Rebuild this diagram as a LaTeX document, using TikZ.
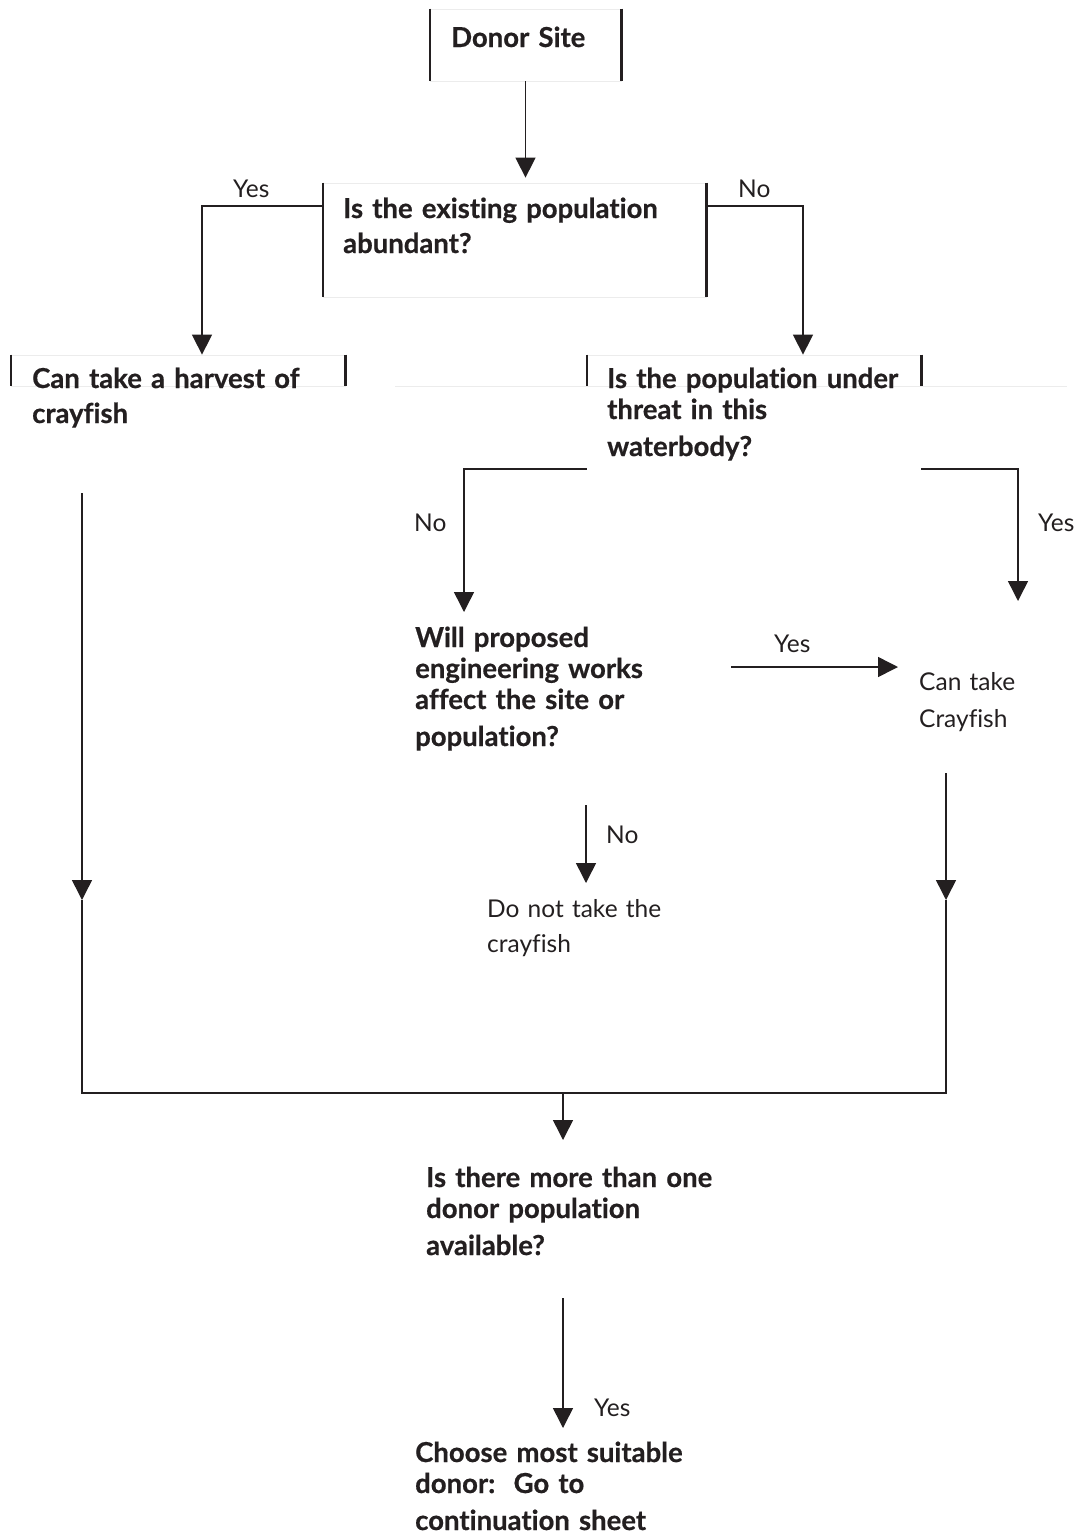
\documentclass[tikz,border=0pt]{standalone}
\usepackage{fontspec}
\setmainfont{Lato}[Ligatures={NoCommon}, BoldFeatures={FakeBold=0.6}]
\usetikzlibrary{arrows.meta}
\definecolor{ink}{HTML}{231F20}
\definecolor{faint}{HTML}{ECECEC}
\begin{document}
\begin{tikzpicture}[x=1pt,y=-1pt,
  q/.style={anchor=base west, inner sep=0, align=left, text width=#1, text=ink,
            font=\fontsize{27.5}{31}\selectfont\bfseries},
  q/.default=380pt,
  ans/.style={anchor=base west, inner sep=0, align=left, text width=#1, text=ink,
            font=\fontsize{24.5}{35}\selectfont},
  ans/.default=200pt,
  lbl/.style={anchor=base west, inner sep=0, text=ink, font=\fontsize{24.5}{24}\selectfont},
  side/.style={draw=ink, line width=2.2pt},
  frame/.style={rectangle, inner sep=0, draw=faint, line width=0.8pt,
    append after command={(\tikzlastnode.north west) edge[side] (\tikzlastnode.south west)
                          (\tikzlastnode.north east) edge[side] (\tikzlastnode.south east)}},
  flow/.style={draw=ink, line width=1.5pt},
  tip/.style={-{Triangle[length=20pt,width=20pt]}}
]
\useasboundingbox (0,0) rectangle (1080,1534);

% framed boxes
\node[frame, minimum width=191pt, minimum height=72pt]  (donor)   at (525.5,45)  {};
\node[frame, minimum width=383pt, minimum height=114pt] (q1box)   at (514.5,240) {};
\node[frame, minimum width=334pt, minimum height=31pt]  (harvbox) at (178,370.5) {};
\node[frame, minimum width=334pt, minimum height=31pt]  (thrbox)  at (754,370.5) {};
\draw[faint, line width=0.8pt] (395,386) -- (1067,386);

% texts
\node[q=200pt] (tdonor) at (451,47) {Donor Site};
\node[q, font=\fontsize{27.5}{35}\selectfont\bfseries] (tq1) at (343,218) {Is the existing population\\abundant?};
\node[q, font=\fontsize{27.5}{35}\selectfont\bfseries] (tharv) at (32,388) {Can take a harvest of\\crayfish};
\node[q] (tthr) at (607,388) {Is the population under\\threat in this\\[6pt]waterbody?};
\node[q] (tworks) at (415,647) {Will proposed\\engineering works\\affect the site or\\[6pt]population?};
\node[ans] (ttake) at (919,690) {Can take\\[2pt]Crayfish};
\node[ans] (tnot) at (487,917) {Do not take the\\crayfish};
\node[q] (tmore) at (426,1187) {Is there more than one\\donor population\\[6pt]available?};
\node[q] (tchoose) at (415,1462) {Choose most suitable\\donor:\ \ Go to\\[6pt]continuation sheet};

% branch labels
\node[lbl] (lyes1) at (233,197) {Yes};
\node[lbl] (lno1)  at (738,197) {No};
\node[lbl] (lno2)  at (414,531) {No};
\node[lbl] (lyes2) at (1038,531) {Yes};
\node[lbl] (lyes3) at (774,652) {Yes};
\node[lbl] (lno3)  at (606,843) {No};
\node[lbl] (lyes4) at (594,1416) {Yes};

% junction points
\coordinate (harvout) at (82,493);
\coordinate (harvmid) at (82,900);
\coordinate (joinL)   at (82,1093);
\coordinate (takeout) at (946,773);
\coordinate (takemid) at (946,900);
\coordinate (joinR)   at (946,1093);
\coordinate (joinC)   at (563,1093);
\coordinate (moreout) at (563,1298);
\coordinate (yesend)  at (1018,601);
\coordinate (worksin) at (464,612);
\coordinate (worksout) at (731,667);
\coordinate (takein)  at (898,667);
\coordinate (noout)   at (586,805);
\coordinate (noend)   at (586,883);

% connectors
\draw[flow, tip, shorten >=5pt] (donor.south) -- (q1box.north -| donor.south);
\draw[flow, tip] (q1box.west |- 0,206) -| (202,0 |- harvbox.north);
\draw[flow, tip] (q1box.east |- 0,206) -| (803,0 |- thrbox.north);
\draw[flow, tip] (thrbox.west |- 0,469) -| (worksin);
\draw[flow, tip] (thrbox.east |- 0,469) -| (yesend);
\draw[flow, tip] (worksout) -- (takein);
\draw[flow, tip] (noout) -- (noend);
\draw[flow, tip] (harvout) -- (harvmid);
\draw[flow] (harvmid) -- (joinL) -- (joinR) -- (takemid);
\draw[flow, tip] (takeout) -- (takemid);
\draw[flow, tip] (joinC) -- (563,1140);
\draw[flow, tip] (moreout) -- (563,1428);
\end{tikzpicture}
\end{document}
